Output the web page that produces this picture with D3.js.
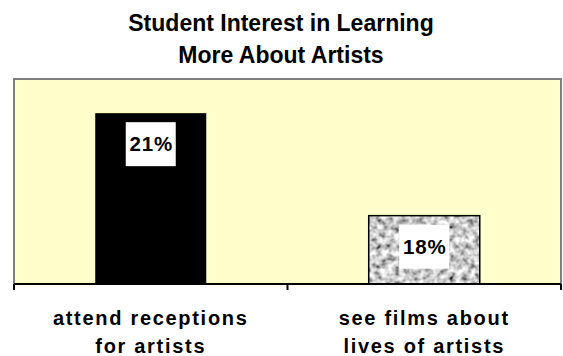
<!DOCTYPE html>
<html>
<head>
<meta charset="utf-8">
<script src="https://cdn.jsdelivr.net/npm/d3@7/dist/d3.min.js"></script>
<style>
	body { margin: 0; background: #ffffff; }
	svg { display: block; font-family: Arial, 'Liberation Sans', sans-serif; }
	.title { font-size: 23px; font-weight: bold; }
	.cat { font-size: 20px; font-weight: bold; letter-spacing: 1.7px; }
	.value { font-size: 20.5px; font-weight: bold; letter-spacing: 0.8px; }
</style>
</head>
<body>
<svg id="chart" width="563" height="356"></svg>
<script>
	// chart data
	let titleLines = ['Student Interest in Learning', 'More About Artists'];
	let categories = ['attend receptions|for artists', 'see films about|lives of artists'];
	let values = [21, 18];
	let valueLabels = ['21%', '18%'];
	let yDomain = [16, 22];

	let svg = d3.select('#chart');

	// plot area
	let plotLeft = 14, plotRight = 561, plotTop = 79, plotBottom = 284;

	let x = d3.scaleBand().domain(categories).range([plotLeft, plotRight]).padding(0);
	let y = d3.scaleLinear().domain(yDomain).range([plotBottom, plotTop]);

	// granite-like texture for the second bar
	let defs = svg.append('defs');
	let filter = defs.append('filter')
		.attr('id', 'granite')
		.attr('filterUnits', 'objectBoundingBox')
		.attr('x', 0).attr('y', 0).attr('width', 1).attr('height', 1);
	filter.append('feTurbulence')
		.attr('type', 'fractalNoise')
		.attr('baseFrequency', 0.16)
		.attr('numOctaves', 2)
		.attr('seed', 7);
	filter.append('feColorMatrix')
		.attr('type', 'matrix')
		.attr('values', '1.7 0 0 0 -0.24  1.7 0 0 0 -0.24  1.7 0 0 0 -0.24  0 0 0 0 1');

	// background of the plot
	svg.append('rect')
		.attr('x', plotLeft).attr('y', plotTop)
		.attr('width', plotRight - plotLeft).attr('height', plotBottom - plotTop)
		.attr('fill', '#ffffcc');

	let barW = x.bandwidth() * 0.406;

	let bars = svg.selectAll('g.bar').data(categories).enter().append('g').attr('class', 'bar');

	bars.each(function(d, i) {
		let g = d3.select(this);
		let bx = x(d) + (x.bandwidth() - barW) / 2;
		let by = y(values[i]);
		if (i === 0) {
			g.append('rect')
				.attr('x', bx).attr('y', by)
				.attr('width', barW).attr('height', y(yDomain[0]) - by)
				.attr('fill', '#000000');
		} else {
			g.append('rect')
				.attr('x', bx).attr('y', by)
				.attr('width', barW).attr('height', y(yDomain[0]) - by)
				.attr('fill', '#a9a9a9')
				.attr('filter', 'url(#granite)');
			g.append('rect')
				.attr('x', bx).attr('y', by)
				.attr('width', barW).attr('height', y(yDomain[0]) - by)
				.attr('fill', 'none')
				.attr('stroke', '#000000')
				.attr('stroke-width', 1.5);
		}

		// white value label box
		let cx = x(d) + x.bandwidth() / 2;
		g.append('rect')
			.attr('x', cx - 25).attr('y', by + 9)
			.attr('width', 50).attr('height', 44)
			.attr('fill', '#ffffff');
		g.append('text')
			.attr('class', 'value')
			.attr('x', cx + 0.5).attr('y', by + 38)
			.attr('text-anchor', 'middle')
			.text(valueLabels[i]);
	});

	// plot border (gray top, left, right)
	svg.append('path')
		.attr('d', 'M' + plotLeft + ',' + plotBottom + 'V' + plotTop + 'H' + plotRight + 'V' + plotBottom)
		.attr('fill', 'none')
		.attr('stroke', '#808080')
		.attr('stroke-width', 2);

	// category axis
	let axis = svg.append('g')
		.attr('transform', 'translate(0,' + plotBottom + ')')
		.call(d3.axisBottom(x).tickSize(0).tickFormat(''));
	axis.select('.domain').remove();
	axis.append('line')
		.attr('x1', plotLeft).attr('x2', plotRight)
		.attr('stroke', '#000000').attr('stroke-width', 2);
	let tickPos = categories.map(function(d) { return x(d); }).concat([plotRight]);
	axis.selectAll('line.tk').data(tickPos).enter().append('line')
		.attr('class', 'tk')
		.attr('x1', function(d) { return d; })
		.attr('x2', function(d) { return d; })
		.attr('y1', 0).attr('y2', 6)
		.attr('stroke', '#000000').attr('stroke-width', 2);

	// category labels, two lines each
	let cat = svg.selectAll('text.cat').data(categories).enter().append('text')
		.attr('class', 'cat')
		.attr('text-anchor', 'middle')
		.attr('y', 324.5);
	cat.each(function(d) {
		let t = d3.select(this);
		let cx = x(d) + x.bandwidth() / 2;
		d.split('|').forEach(function(line, j) {
			t.append('tspan')
				.attr('x', cx)
				.attr('dy', j === 0 ? 0 : 28)
				.text(line);
		});
	});

	// title
	svg.selectAll('text.title').data(titleLines).enter().append('text')
		.attr('class', 'title')
		.attr('text-anchor', 'middle')
		.attr('x', 281)
		.attr('y', function(d, i) { return 30.5 + i * 32.5; })
		.text(function(d) { return d; });
</script>
</body>
</html>
